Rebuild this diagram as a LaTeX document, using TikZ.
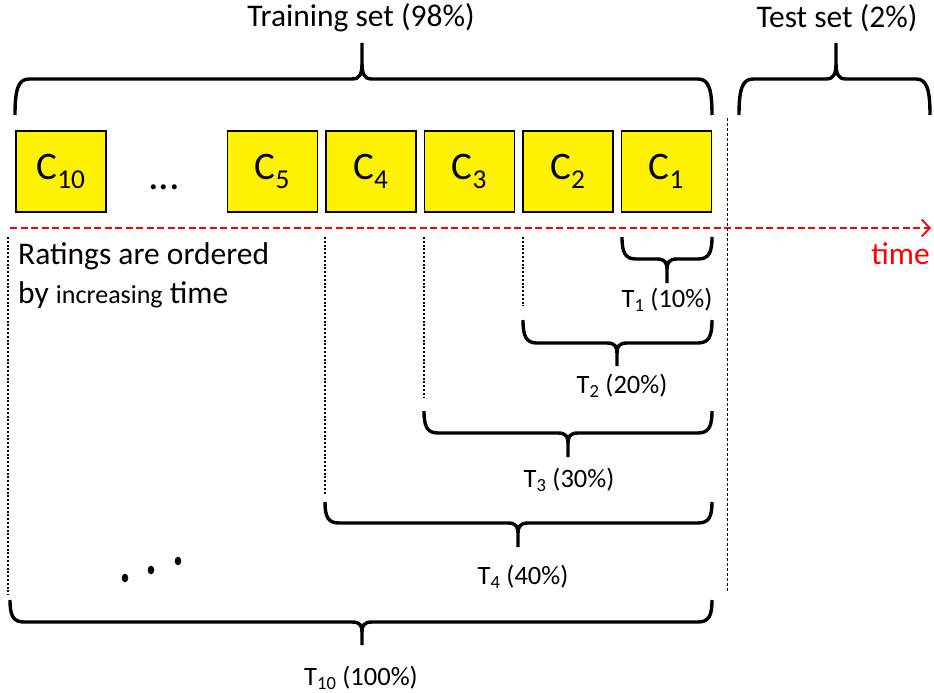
\documentclass[tikz,border=0pt]{standalone}
\usepackage{fontspec}
\setmainfont{Carlito}
\usetikzlibrary{arrows.meta, positioning, calc}

% curly brace: left x, right x, tip x, arm y, line y, tip y
\newcommand{\spanbrace}[6]{%
  \draw[bracepath] (#1,#4) .. controls (#1,{#5+0.3*(#4-#5)}) and ({#1+3},#5) .. ({#1+14},#5)
    -- ({#3-10},#5) .. controls ({#3-2},#5) and (#3,{#5+0.15*(#6-#5)}) .. (#3,{#5+0.45*(#6-#5)})
    -- (#3,#6) -- (#3,{#5+0.45*(#6-#5)})
    .. controls (#3,{#5+0.15*(#6-#5)}) and ({#3+2},#5) .. ({#3+10},#5)
    -- ({#2-14},#5) .. controls ({#2-3},#5) and (#2,{#5+0.3*(#4-#5)}) .. (#2,#4);}

\tikzset{
  cbox/.style={draw=black, line width=1.6pt, fill=yellow, minimum width=90pt,
    minimum height=81pt, inner sep=0pt, font=\fontsize{39}{44}\selectfont},
  bracepath/.style={line width=3.4pt},
  bigtext/.style={font=\fontsize{31.5}{39}\selectfont, inner sep=0pt},
  splitlabel/.style={font=\fontsize{26.5}{32}\selectfont, inner sep=0pt},
  splitline/.style={line width=2pt, dash pattern=on 2pt off 1.8pt},
  testline/.style={line width=0.8pt, dash pattern=on 3pt off 2pt},
  timeline/.style={red, line width=1.8pt, dash pattern=on 7pt off 3.5pt,
    -{Straight Barb[length=8pt,width=17pt,line width=1.8pt]}}
}

\begin{document}
\begin{tikzpicture}[x=1pt, y=-1pt]

  \useasboundingbox (0,0) rectangle (934,693);

  % set titles and their braces
  \node[bigtext] (train) at (361,18) {Training set (98\%)};
  \node[bigtext] (test) at (837,18) {Test set (2\%)};
  \spanbrace{15}{712}{362}{115}{79}{43}
  \spanbrace{739}{930}{836}{115}{79}{43}

  % chunks of ratings
  \node[cbox] (c10) at (61,171.5) {C\textsubscript{10}};
  \node[font=\fontsize{42}{44}\selectfont, anchor=base] (gap) at (164,189) {...};
  \node[cbox] (c5) at (272.5,171.5) {C\textsubscript{5}};
  \node[cbox, right=6.9pt of c5] (c4) {C\textsubscript{4}};
  \node[cbox, right=6.9pt of c4] (c3) {C\textsubscript{3}};
  \node[cbox, right=6.9pt of c3] (c2) {C\textsubscript{2}};
  \node[cbox, right=6.9pt of c2] (c1) {C\textsubscript{1}};

  % time axis
  \coordinate (tstart) at (10,228);
  \coordinate (tend) at (931,228);
  \draw[timeline] (tstart) -- (tend);
  \node[bigtext, red, anchor=base east] (timelabel) at (930,264) {time};

  % train / test split
  \draw[testline] (727,118) -- (727,592);

  \node[bigtext, align=left, anchor=north west] (note) at (18,242)
    {Ratings are ordered\\by {\fontsize{26}{32}\selectfont increasing} time};

  % start of each training subset
  \draw[splitline] (8,237) -- (8,595);
  \draw[splitline] (325,237) -- (325,494);
  \draw[splitline] (424,237) -- (424,398);
  \draw[splitline] (523,237) -- (523,306);

  % nested training subsets
  \spanbrace{622}{712}{667}{237}{259}{283}
  \node[splitlabel] (t1) at (667,300) {T\textsubscript{1} (10\%)};
  \spanbrace{523}{712}{617}{320}{343}{366}
  \node[splitlabel] (t2) at (622,386) {T\textsubscript{2} (20\%)};
  \spanbrace{424}{712}{568}{411}{433}{457}
  \node[splitlabel] (t3) at (569,480) {T\textsubscript{3} (30\%)};
  \spanbrace{325}{712}{518}{502}{523}{547}
  \node[splitlabel] (t4) at (523,577) {T\textsubscript{4} (40\%)};
  \spanbrace{10}{712}{362}{600}{622}{645}
  \node[splitlabel] (t10) at (361,678) {T\textsubscript{10} (100\%)};

  % more subsets
  \fill (125,578) ellipse (3.3pt and 4.3pt);
  \fill (151,570) ellipse (3.3pt and 4.3pt);
  \fill (178,561) ellipse (3.3pt and 4.3pt);

\end{tikzpicture}
\end{document}
